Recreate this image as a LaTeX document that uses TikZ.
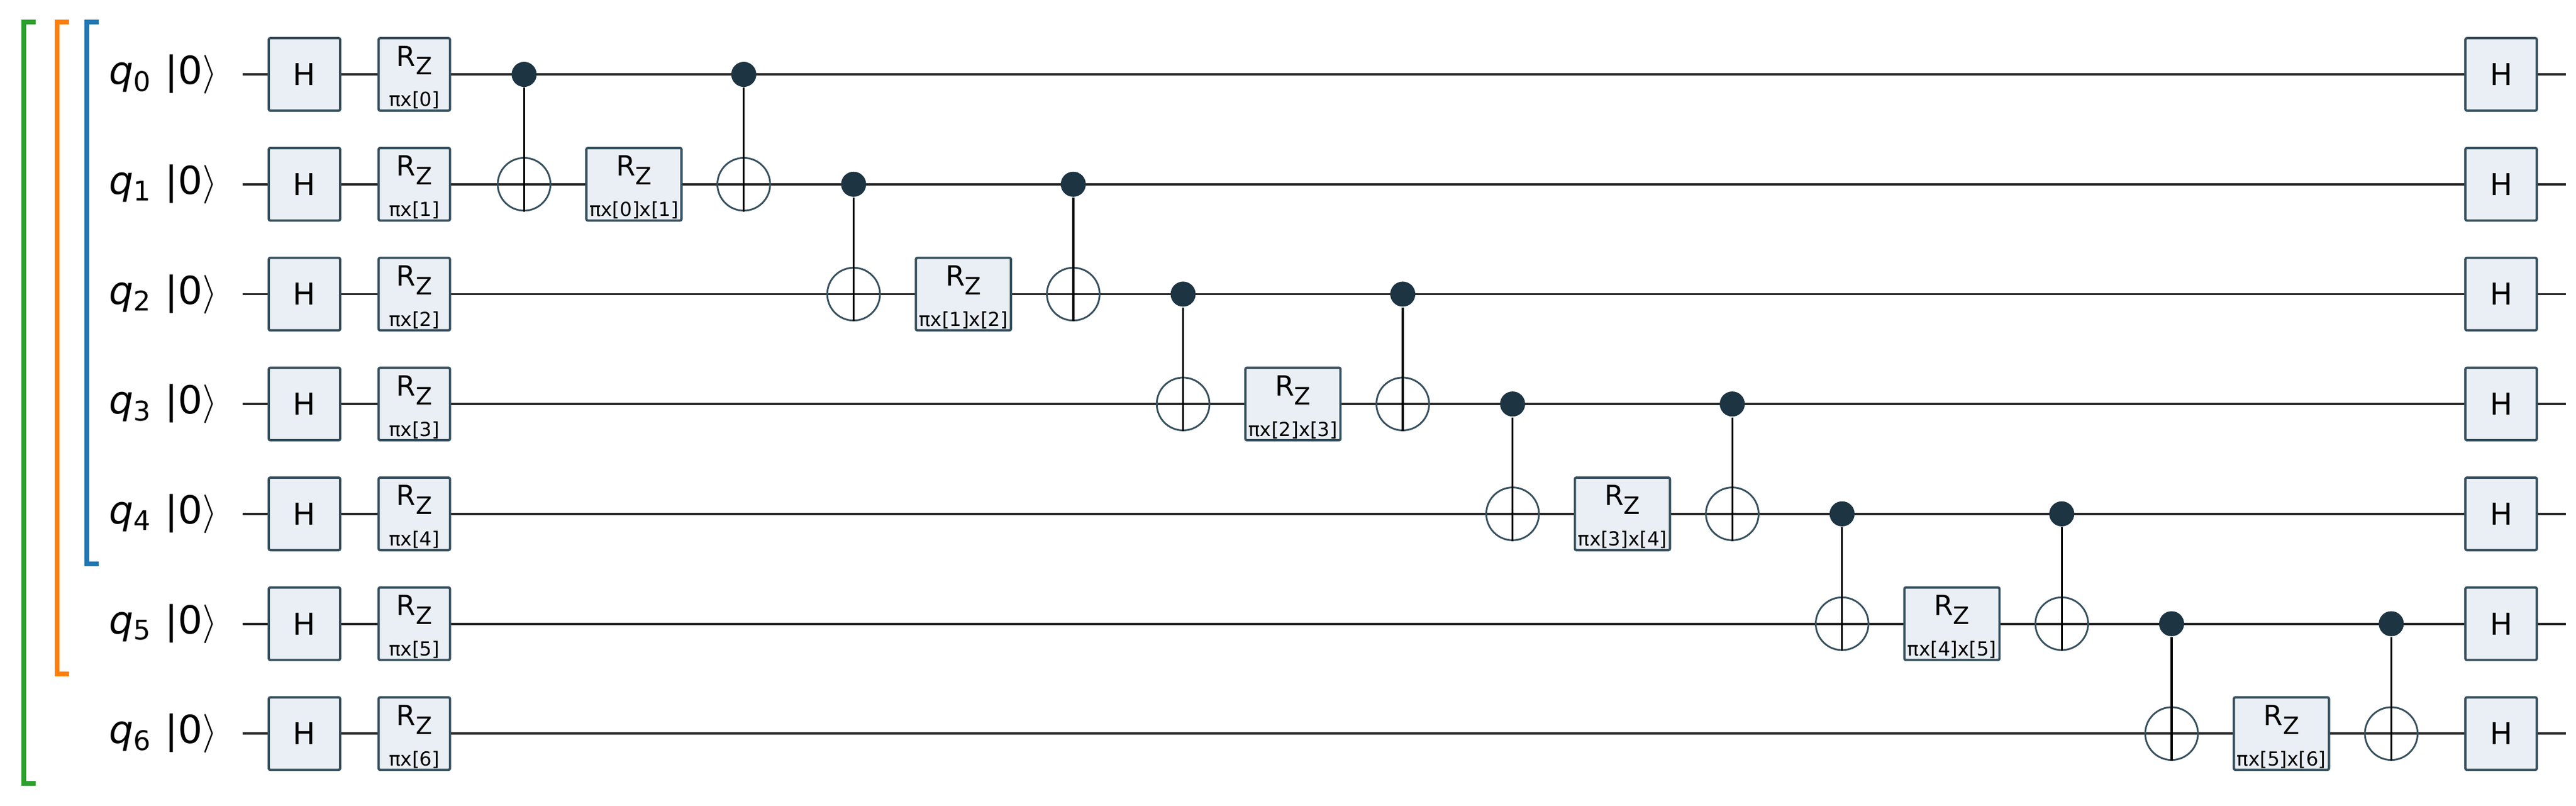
\documentclass[tikz,border=0pt]{standalone}
\usepackage{fontspec}
\setmainfont{DejaVu Sans}
\usepackage{amsmath,amssymb}
\usetikzlibrary{calc}

\definecolor{gatefill}{HTML}{E9EFF4}
\definecolor{gateline}{HTML}{37505E}
\definecolor{ctlcol}{HTML}{1D3442}
\definecolor{tabblue}{HTML}{1F77B4}
\definecolor{taborange}{HTML}{FF7F0E}
\definecolor{tabgreen}{HTML}{2CA02C}

\newcommand{\rzname}{R\raisebox{-2.3pt}{\fontsize{6.2}{6}\selectfont Z}}

\tikzset{
	wire/.style={line width=0.6pt, black!85},
	gate/.style={draw=gateline, fill=gatefill, line width=0.6pt, rounded corners=0.4pt,
		minimum width=0.65cm, minimum height=0.66cm, inner sep=0pt},
	hgate/.style={gate, font=\fontsize{7.8}{8}\selectfont},
	widegate/.style={gate, minimum width=0.866cm},
	rztext/.style={anchor=base, inner sep=0pt, font=\fontsize{7.2}{8}\selectfont},
	parm/.style={anchor=base, inner sep=0pt, font=\fontsize{5}{6}\selectfont},
	ctl/.style={circle, fill=ctlcol, minimum size=0.228cm, inner sep=0pt},
	tgt/.style={circle, draw=gateline, line width=0.45pt, minimum size=0.48cm, inner sep=0pt},
	cnotline/.style={line width=0.5pt, black},
	qlabel/.style={anchor=base east, inner sep=0pt, font=\fontsize{10}{12}\selectfont},
	brk/.style={line width=1.3pt}
}

\begin{document}
\begin{tikzpicture}[x=1cm,y=1cm]
	\useasboundingbox (-2.772,0.677) rectangle (20.682,-6.654);
	\foreach \k in {0,...,6}{
		\coordinate (in-\k) at (-0.563,-\k);
		\coordinate (out-\k) at (20.59,-\k);
		\draw[wire] (in-\k) -- (out-\k);
		\node[qlabel] (lab-\k) at (-0.785,-\k-0.09) {\textit{q}\textsubscript{\k}\ |0$\rangle$};
		\node[hgate] (H-\k) at (0,-\k) {H};
		\node[gate] (R-\k) at (1,-\k) {};
		\node[rztext] (R-\k-t) at ($(R-\k.center)+(0,0.076)$) {\rzname};
		\node[parm] (R-\k-p) at ($(R-\k.center)+(0,-0.292)$) {πx[\k]};
		\node[hgate] (Hout-\k) at (20,-\k) {H};
	}
	\foreach \i [evaluate=\i as \j using int(\i+1), evaluate=\i as \c using int(2+3*\i)] in {0,...,5}{
		\node[ctl] (ca-\i) at (\c,-\i) {};
		\node[tgt] (ta-\i) at (\c,-\j) {};
		\draw[cnotline] (ca-\i) -- (ta-\i.south);
		\node[widegate] (RZZ-\i) at (\c+1,-\j) {};
		\node[rztext] (RZZ-\i-t) at ($(RZZ-\i.center)+(0,0.076)$) {\rzname};
		\node[parm] (RZZ-\i-p) at ($(RZZ-\i.center)+(0,-0.292)$) {πx[\i]x[\j]};
		\node[ctl] (cb-\i) at (\c+2,-\i) {};
		\node[tgt] (tb-\i) at (\c+2,-\j) {};
		\draw[cnotline] (cb-\i) -- (tb-\i.south);
	}
	\draw[brk, tabblue] (-1.872,0.476) -- (-1.982,0.476) -- (-1.982,-4.456) -- (-1.872,-4.456);
	\draw[brk, taborange] (-2.142,0.476) -- (-2.252,0.476) -- (-2.252,-5.457) -- (-2.142,-5.457);
	\draw[brk, tabgreen] (-2.446,0.476) -- (-2.556,0.476) -- (-2.556,-6.454) -- (-2.446,-6.454);
\end{tikzpicture}
\end{document}
